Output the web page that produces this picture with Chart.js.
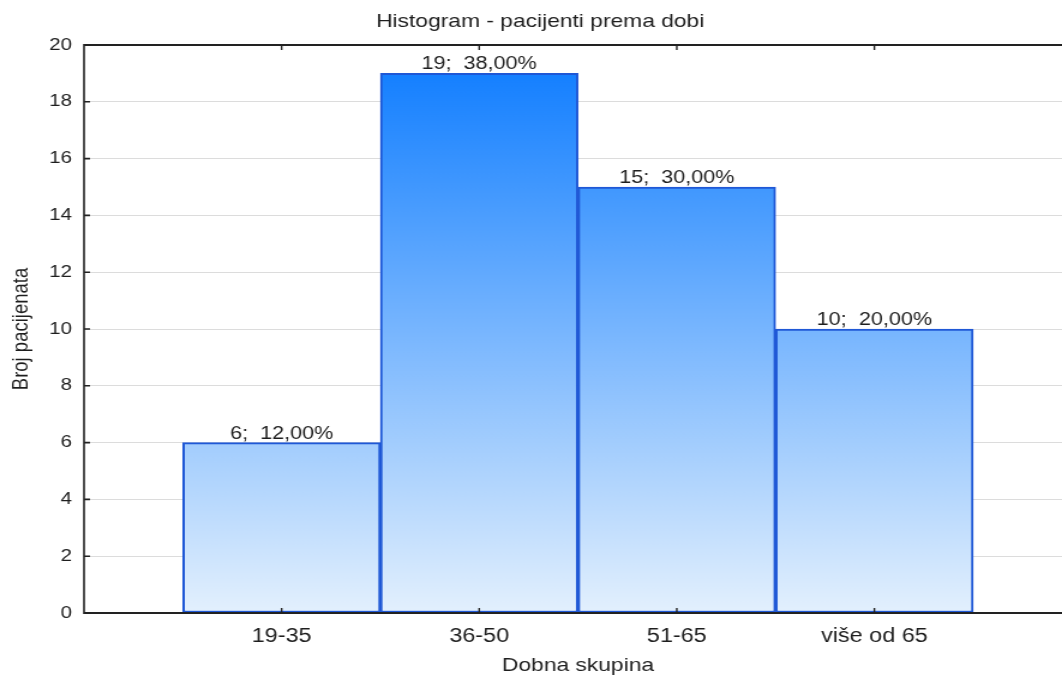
<!DOCTYPE html>
<html>
<head>
<meta charset="utf-8">
<script src="https://cdn.jsdelivr.net/npm/chart.js@4"></script>
<style>
  html, body { margin: 0; padding: 0; background: #fff; overflow: hidden; }
  #wrap { width: 1062px; height: 678px; overflow: hidden; position: relative; }
  #c { display: block; transform: scaleX(1.2); transform-origin: 0 0; }
</style>
</head>
<body>
<div id="wrap"><canvas id="c" width="917" height="678"></canvas></div>
<script>
const chartTitle = 'Histogram - pacijenti prema dobi';
const xTitle = 'Dobna skupina';
const yTitle = 'Broj pacijenata';
const categories = ['19-35', '36-50', '51-65', 'više od 65'];
const counts = [6, 19, 15, 10];
const yMin = 0, yMax = 20, yStep = 2;

const total = counts.reduce((a, b) => a + b, 0);
const FONT = "'Liberation Sans', Arial, sans-serif";
const TXT = '#1e1e1e';

function barGradient(ctx) {
  const chart = ctx.chart;
  const a = chart.chartArea;
  if (!a) return '#6fb2fc';
  const g = chart.ctx.createLinearGradient(0, a.bottom, 0, a.top);
  g.addColorStop(0, '#e3f0fd');
  g.addColorStop(1, '#0a7aff');
  return g;
}

const framePlugin = {
  id: 'frame',
  afterDatasetsDraw(chart) {
    const ctx = chart.ctx;
    const a = chart.chartArea;
    const xs = chart.scales.x, ys = chart.scales.y;
    ctx.save();
    // data labels
    const meta = chart.getDatasetMeta(0);
    ctx.font = '18px ' + FONT;
    ctx.fillStyle = TXT;
    ctx.textAlign = 'center';
    ctx.textBaseline = 'alphabetic';
    meta.data.forEach((bar, i) => {
      const pct = (counts[i] / total * 100).toFixed(2).replace('.', ',');
      ctx.fillText(counts[i] + ';  ' + pct + '%', bar.x, bar.y - 4);
    });
    // frame
    ctx.strokeStyle = '#222';
    ctx.lineWidth = 2;
    ctx.beginPath();
    ctx.moveTo(a.left, a.top); ctx.lineTo(a.right, a.top);
    ctx.moveTo(a.left, a.bottom); ctx.lineTo(a.right, a.bottom);
    ctx.stroke();
    ctx.lineWidth = 1.6;
    ctx.beginPath();
    ctx.moveTo(a.left, a.top - 1); ctx.lineTo(a.left, a.bottom + 1);
    ctx.stroke();
    // tick marks
    ctx.lineWidth = 1.6;
    ctx.beginPath();
    ys.ticks.forEach(t => {
      const y = ys.getPixelForValue(t.value);
      ctx.moveTo(a.left, y); ctx.lineTo(a.left + 5, y);
    });
    ctx.stroke();
    ctx.lineWidth = 1.4;
    ctx.beginPath();
    categories.forEach((c, i) => {
      const x = xs.getPixelForValue(i);
      ctx.moveTo(x, a.bottom); ctx.lineTo(x, a.bottom - 5);
      ctx.moveTo(x, a.top); ctx.lineTo(x, a.top + 5);
    });
    ctx.stroke();
    ctx.restore();
  }
};

new Chart(document.getElementById('c'), {
  type: 'bar',
  data: {
    datasets: [{
      data: counts.map((v, i) => ({ x: i, y: v })),
      backgroundColor: barGradient,
      borderColor: '#1f58d6',
      borderWidth: 2,
      borderSkipped: false,
      barPercentage: 1,
      categoryPercentage: 1
    }]
  },
  options: {
    responsive: false,
    animation: false,
    devicePixelRatio: 1,
    layout: { padding: { left: 7, right: 23.7, top: 0, bottom: 0 } },
    plugins: {
      legend: { display: false },
      tooltip: { enabled: false },
      title: {
        display: true,
        text: chartTitle,
        color: TXT,
        font: { family: FONT, size: 19, weight: 'normal' },
        padding: { top: 10, bottom: 12.2 }
      }
    },
    scales: {
      x: {
        type: 'linear',
        min: -1,
        max: 4,
        offset: false,
        grid: { display: false, offset: false, drawTicks: false },
        border: { display: false },
        afterBuildTicks: s => { s.ticks = categories.map((c, i) => ({ value: i })); },
        afterFit: s => { s.height = 65; },
        ticks: {
          autoSkip: false,
          maxRotation: 0,
          padding: 12,
          color: TXT,
          font: { family: FONT, size: 19.5 },
          callback: v => categories[v] ?? ''
        },
        title: {
          display: true,
          text: xTitle,
          color: TXT,
          font: { family: FONT, size: 19 },
          padding: { top: 8, bottom: 1 }
        }
      },
      y: {
        min: yMin,
        max: yMax,
        afterFit: s => { s.width = 63; },
        grid: { color: '#dcdcdc', lineWidth: 1, drawTicks: false },
        border: { display: false },
        ticks: {
          stepSize: yStep,
          padding: 10,
          color: TXT,
          font: { family: FONT, size: 17 }
        },
        title: {
          display: true,
          text: yTitle,
          color: TXT,
          font: { family: FONT, size: 18.5 },
          padding: 0
        }
      }
    }
  },
  plugins: [framePlugin]
});
</script>
</body>
</html>
